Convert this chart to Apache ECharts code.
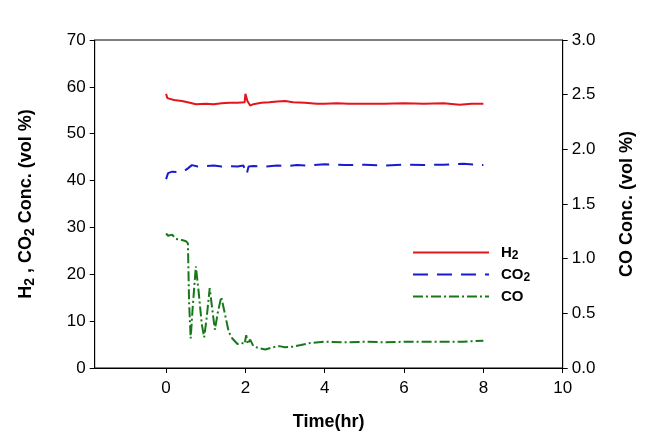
<!DOCTYPE html>
<html><head><meta charset="utf-8">
<script src="https://cdn.jsdelivr.net/npm/echarts@6/dist/echarts.min.js"></script>
<style>html,body{margin:0;padding:0;background:#fff}#c{width:657px;height:447px}</style>
</head><body><div id="c"></div>
<script>
var xTicks = [0, 2, 4, 6, 8, 10];
var h2Time = [0.00,0.03,0.08,0.2,0.4,0.6,0.75,1.0,1.2,1.4,1.6,1.8,1.98,2.0,2.05,2.12,2.2,2.4,2.6,2.8,3.0,3.2,3.5,3.8,4.0,4.3,4.6,5.0,5.5,6.0,6.5,7.0,7.4,7.7,8.0];
var h2Vals = [58.5,57.6,57.3,57.2,57.0,56.6,56.3,56.4,56.3,56.5,56.6,56.6,56.7,58.5,57.0,56.0,56.3,56.6,56.7,56.9,57.0,56.7,56.6,56.4,56.4,56.5,56.4,56.4,56.4,56.5,56.4,56.5,56.2,56.4,56.4];
var co2Time = [0.00,0.05,0.15,0.3,0.45,0.55,0.65,0.8,1.0,1.2,1.4,1.6,1.8,1.95,2.0,2.03,2.08,2.2,2.5,2.8,3.0,3.3,3.6,4.0,4.5,5.0,5.5,6.0,6.5,7.0,7.5,8.0];
var co2Vals = [40.3,41.6,41.9,41.8,42.0,42.6,43.3,43.0,43.1,43.2,43.0,43.1,43.0,43.2,43.6,41.3,43.0,43.1,43.0,43.2,43.1,43.3,43.2,43.5,43.3,43.4,43.2,43.4,43.3,43.4,43.6,43.3];
var coTime = [0.00,0.05,0.1,0.15,0.25,0.4,0.5,0.55,0.58,0.62,0.67,0.75,0.82,0.9,0.96,1.02,1.1,1.16,1.23,1.3,1.39,1.48,1.58,1.67,1.8,1.9,1.98,2.02,2.06,2.12,2.2,2.35,2.5,2.7,2.85,3.0,3.2,3.4,3.65,4.0,4.5,5.0,5.5,6.0,6.5,7.0,7.5,8.0];
var coVals = [1.23,1.21,1.20,1.22,1.18,1.17,1.16,1.14,0.6,0.27,0.55,0.93,0.7,0.4,0.28,0.45,0.73,0.55,0.35,0.5,0.65,0.5,0.33,0.27,0.22,0.23,0.22,0.3,0.22,0.26,0.2,0.18,0.17,0.19,0.2,0.19,0.195,0.21,0.23,0.24,0.235,0.24,0.235,0.24,0.24,0.24,0.24,0.25];

function pairs(t, v) { return t.map(function (x, i) { return [x, v[i]]; }); }

var FONT = 'Liberation Sans, Arial, sans-serif';
var RED = '#e3151b', BLUE = '#1a1ad0', GREEN = '#17781a';
var chart = echarts.init(document.getElementById('c'));
chart.setOption({
  animation: false,
  backgroundColor: '#fff',
  grid: { left: 94.7, right: 94.3, top: 40, bottom: 79, show: true, borderColor: '#000', borderWidth: 1, backgroundColor: 'transparent' },
  legend: {
    orient: 'vertical', left: 407, top: 240, itemWidth: 76, itemHeight: 14, itemGap: 5.5,
    data: ['H2', 'CO2', 'CO'],
    itemStyle: { opacity: 0 },
    formatter: function (n) { return n === 'CO' ? '{b|CO}' : '{b|' + n.slice(0, -1) + '}{s|2}'; },
    textStyle: {
      padding: [0, 0, 0, 7],
      rich: {
        b: { fontFamily: FONT, fontWeight: 'bold', fontSize: 15, color: '#000' },
        s: { fontFamily: FONT, fontWeight: 'bold', fontSize: 12, color: '#000', verticalAlign: 'bottom', padding: [6, 0, 0, 0] }
      }
    }
  },
  xAxis: {
    type: 'value', min: -1.8, max: 10,
    name: 'Time(hr)', nameLocation: 'middle', nameGap: 45,
    nameTextStyle: { fontFamily: FONT, fontWeight: 'bold', fontSize: 18, color: '#000' },
    axisLine: { onZero: false, lineStyle: { color: '#000', width: 1 } },
    axisTick: { show: true, length: 5, inside: false, customValues: xTicks, lineStyle: { color: '#000' } },
    axisLabel: { customValues: xTicks, fontFamily: FONT, fontSize: 17, color: '#000', margin: 12 },
    splitLine: { show: false }
  },
  yAxis: [{
    type: 'value', min: 0, max: 70, interval: 10, position: 'left',
    name: 'H{s|2} , CO{s|2} Conc. (vol %)', nameLocation: 'middle', nameGap: 58, nameRotate: 90,
    nameTextStyle: { fontFamily: FONT, fontWeight: 'bold', fontSize: 18, color: '#000',
      rich: { s: { fontFamily: FONT, fontWeight: 'bold', fontSize: 14, color: '#000', padding: [8, 0, 0, 0] } } },
    axisLine: { show: true, onZero: false, lineStyle: { color: '#000', width: 1 } },
    axisTick: { show: true, length: 5, lineStyle: { color: '#000' } },
    axisLabel: { fontFamily: FONT, fontSize: 17, color: '#000', margin: 9 },
    splitLine: { show: false }
  }, {
    type: 'value', min: 0, max: 3, interval: 0.5, position: 'right',
    name: 'CO Conc. (vol %)', nameLocation: 'middle', nameGap: 55, nameRotate: 90,
    nameTextStyle: { fontFamily: FONT, fontWeight: 'bold', fontSize: 18, color: '#000' },
    axisLine: { show: true, onZero: false, lineStyle: { color: '#000', width: 1 } },
    axisTick: { show: true, length: 5, lineStyle: { color: '#000' } },
    axisLabel: { fontFamily: FONT, fontSize: 17, color: '#000', margin: 9, formatter: function (v) { return v.toFixed(1); } },
    splitLine: { show: false }
  }],
  series: [
    { name: 'H2', type: 'line', yAxisIndex: 0, symbol: 'none', data: pairs(h2Time, h2Vals),
      itemStyle: { color: RED }, lineStyle: { color: RED, width: 2 } },
    { name: 'CO2', type: 'line', yAxisIndex: 0, symbol: 'none', data: pairs(co2Time, co2Vals),
      itemStyle: { color: BLUE }, lineStyle: { color: BLUE, width: 2, type: [15, 9] } },
    { name: 'CO', type: 'line', yAxisIndex: 1, symbol: 'none', data: pairs(coTime, coVals),
      itemStyle: { color: GREEN }, lineStyle: { color: GREEN, width: 2, type: [10, 3, 2, 3] } }
  ]
});
</script></body></html>
